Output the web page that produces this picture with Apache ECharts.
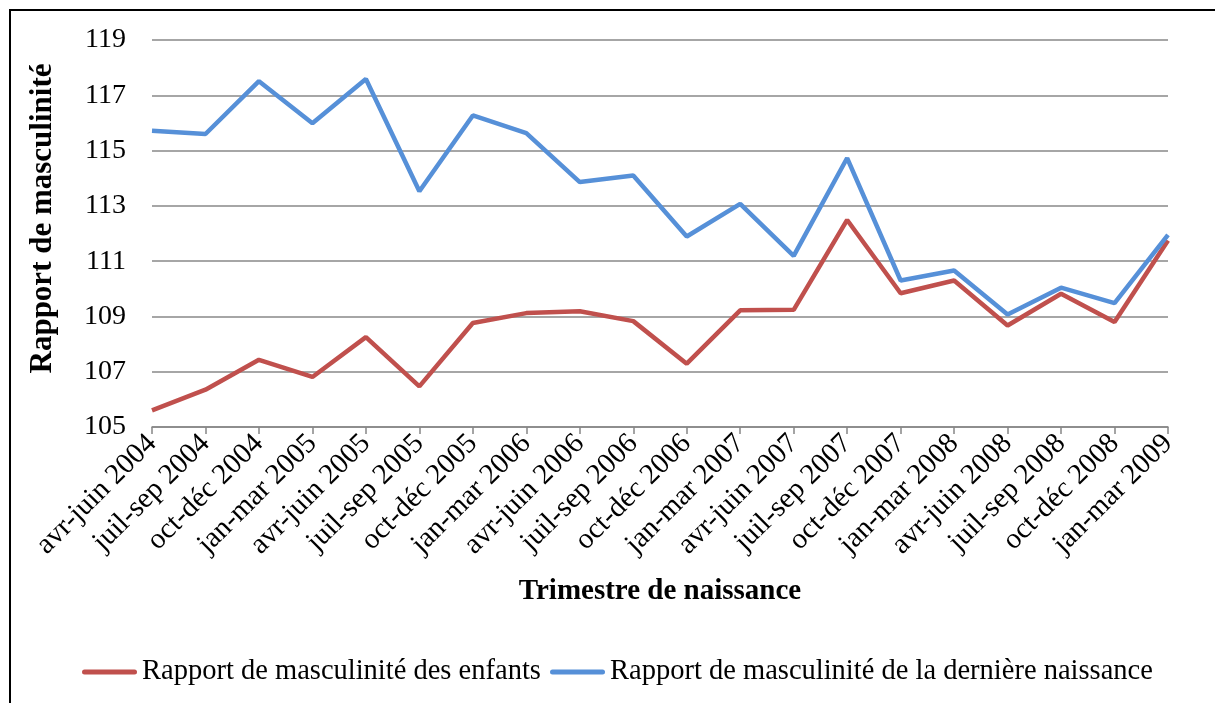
<!DOCTYPE html>
<html>
<head>
<meta charset="utf-8">
<script src="https://cdn.jsdelivr.net/npm/echarts@6/dist/echarts.min.js"></script>
<style>
html,body{margin:0;padding:0;background:#fff;}
#chart{width:1215px;height:703px;}
</style>
</head>
<body>
<div id="chart"></div>
<script>
const categories = ["avr-juin 2004","juil-sep 2004","oct-déc 2004","jan-mar 2005","avr-juin 2005","juil-sep 2005","oct-déc 2005","jan-mar 2006","avr-juin 2006","juil-sep 2006","oct-déc 2006","jan-mar 2007","avr-juin 2007","juil-sep 2007","oct-déc 2007","jan-mar 2008","avr-juin 2008","juil-sep 2008","oct-déc 2008","jan-mar 2009"];
const enfants = [105.60,106.35,107.43,106.81,108.25,106.47,108.76,109.12,109.19,108.83,107.29,109.22,109.24,112.49,109.84,110.30,108.67,109.82,108.80,111.75];
const derniere = [115.72,115.60,117.51,115.99,117.59,113.53,116.27,115.63,113.86,114.10,111.89,113.07,111.19,114.73,110.30,110.66,109.07,110.04,109.48,111.95];
const seriesNames = ["Rapport de masculinité des enfants","Rapport de masculinité de la dernière naissance"];
const seriesColors = ["#C0504D","#5690D8"];
const yTitle = "Rapport de masculinité";
const xTitle = "Trimestre de naissance";

const FONT = "Liberation Serif";
const chart = echarts.init(document.getElementById('chart'), null, {renderer:'canvas'});

// custom legend (line swatch + serif text)
const legendX = [82, 550];
const legendY = 672;
const legendGraphics = [];
seriesNames.forEach(function(n, i){
  legendGraphics.push({type:'rect', silent:true,
    shape:{x:legendX[i], y:legendY-2.5, width:55, height:5, r:2.5},
    style:{fill:seriesColors[i]}});
  legendGraphics.push({type:'text', silent:true, x:legendX[i]+60, y:legendY,
    style:{text:n, font:'normal 400 28.5px "Liberation Serif", "Times New Roman", serif', fill:'#000', verticalAlign:'middle', align:'left'}});
});

chart.setOption({
  animation:false,
  backgroundColor:'#fff',
  textStyle:{fontFamily:FONT},
  graphic:[{type:'rect', shape:{x:10,y:10,width:1230,height:720}, style:{fill:'none',stroke:'#000',lineWidth:2}, silent:true}].concat(legendGraphics),
  grid:{left:152, right:47, top:40, bottom:276, containLabel:false},
  xAxis:{
    type:'category', data:categories, boundaryGap:false,
    axisLine:{lineStyle:{color:'#868686', width:1.5}},
    axisTick:{show:true, alignWithLabel:true, length:7, lineStyle:{color:'#868686', width:1.5}},
    axisLabel:{rotate:45, interval:0, fontFamily:FONT, fontSize:29, color:'#000', margin:12},
    name:xTitle, nameLocation:'middle', nameGap:150,
    nameTextStyle:{fontFamily:FONT, fontSize:29, fontWeight:'bold', color:'#000'}
  },
  yAxis:{
    type:'value', min:105, max:119, interval:2,
    axisLine:{show:false}, axisTick:{show:false},
    splitLine:{lineStyle:{color:'#888', width:1.5}},
    axisLabel:{fontFamily:FONT, fontSize:28, color:'#000', margin:26},
    name:yTitle, nameLocation:'middle', nameGap:94, nameRotate:90,
    nameTextStyle:{fontFamily:FONT, fontSize:31, fontWeight:'bold', color:'#000', padding:[0,0,0,30]}
  },
  series:[
    {name:seriesNames[0], type:'line', data:enfants, symbol:'none', lineStyle:{color:seriesColors[0], width:4.5}, itemStyle:{color:seriesColors[0]}, z:2},
    {name:seriesNames[1], type:'line', data:derniere, symbol:'none', lineStyle:{color:seriesColors[1], width:4.5}, itemStyle:{color:seriesColors[1]}, z:3}
  ]
});
</script>
</body>
</html>
